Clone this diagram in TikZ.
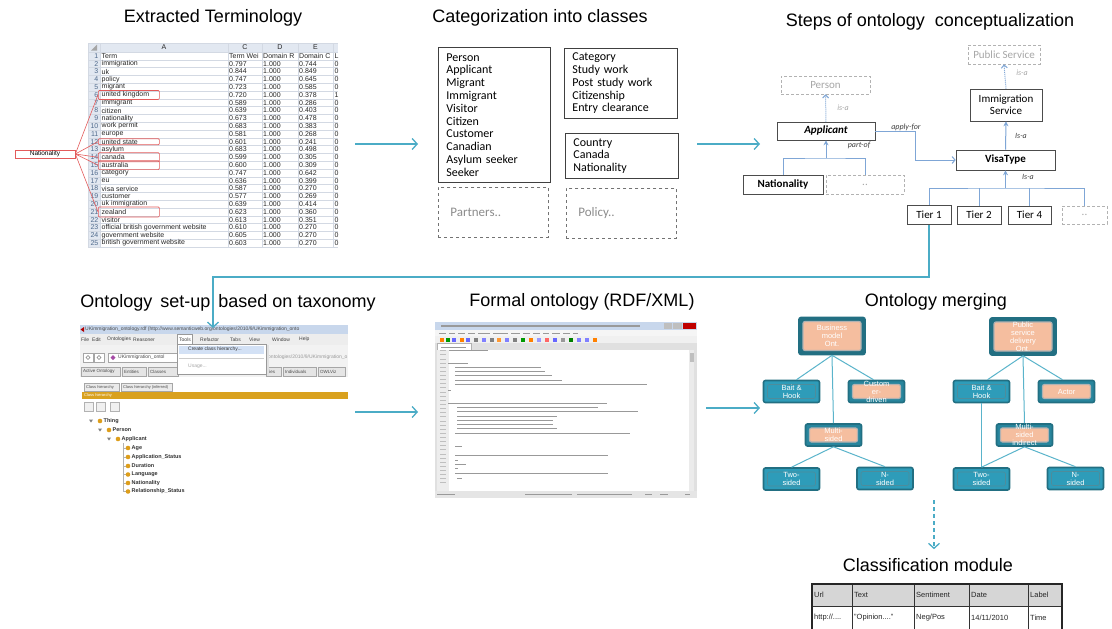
\documentclass[tikz,border=0pt]{standalone}
\usepackage{fontspec}
\setmainfont{Liberation Sans}
\newfontfamily\calibri{Carlito}
\usepackage{tikz}
\usetikzlibrary{arrows.meta, positioning, calc}

\definecolor{flowteal}{HTML}{4BACC6}
\definecolor{linkblue}{HTML}{7FA6D6}
\definecolor{gridgray}{HTML}{D3D9E3}
\definecolor{hdrfill}{HTML}{E2E8F1}
\definecolor{rownum}{HTML}{4F6A8C}
\definecolor{redmark}{HTML}{E35A5A}
\definecolor{mdark}{HTML}{226F82}
\definecolor{mteal}{HTML}{2E9CB9}
\definecolor{mlink}{HTML}{5AB4CB}
\definecolor{peach}{HTML}{F5BE9F}
\definecolor{protorange}{HTML}{D9A11E}
\definecolor{winblue}{HTML}{C8D7EC}
\definecolor{menuhi}{HTML}{D3E1F5}

\begin{document}
\begin{tikzpicture}[x=1pt, y=-1pt,
    title/.style={font=\fontsize{18}{20}\selectfont, inner sep=0pt},
    flow/.style={draw=flowteal, line width=1.3pt,
      -{Straight Barb[length=5pt, width=11pt]}},
    cell/.style={font=\fontsize{7}{8}\selectfont, text=black!85, inner sep=0pt,
      anchor=west},
    redbox/.style={draw=redmark, line width=0.7pt, rounded corners=1pt,
      minimum width=61pt, minimum height=9pt, inner sep=0pt, anchor=west},
    catbox/.style={draw=black!75, line width=0.8pt, anchor=north west,
      align=left, inner xsep=8pt, font=\calibri\fontsize{12}{12.8}\selectfont},
    catghost/.style={draw=black!55, dashed, line width=0.7pt, anchor=north west,
      align=left, inner xsep=12pt, text width=86pt, minimum height=50pt,
      text=black!45, font=\calibri\fontsize{13}{14}\selectfont},
    cbox/.style={draw=black!70, line width=0.6pt, inner sep=1pt,
      font=\calibri\fontsize{11}{12}\selectfont},
    cghost/.style={cbox, draw=black!30, densely dashed, text=black!35},
    link/.style={draw=linkblue, line width=1pt},
    rel/.style={font=\calibri\itshape\fontsize{8}{9}\selectfont,
      text=black!75, inner sep=0pt},
    mnode/.style={draw=mdark, line width=1.6pt, rounded corners=2pt,
      minimum width=56pt, minimum height=22pt, inner sep=0pt, align=center,
      text=white, font=\fontsize{7.5}{8}\selectfont},
    mleaf/.style={mnode, fill=mteal, path picture={\draw[mdark!80,
      line width=0.6pt] ([shift={(4pt,-4pt)}]path picture bounding box.north
      west) rectangle ([shift={(-4pt,4pt)}]path picture bounding box.south
      east);}},
    mpeach/.style={mnode, fill=mteal!85!black, path picture={\filldraw[
      fill=peach, draw=black!30, line width=1.2pt] ([shift={(4pt,-4pt)}]path
      picture bounding box.north west) rectangle ([shift={(-4pt,4pt)}]path
      picture bounding box.south east);}},
    mroot/.style={mpeach, fill=mdark, minimum width=66pt, minimum height=37pt},
    mline/.style={draw=mlink, line width=1pt},
    tiny/.style={font=\fontsize{5}{6}\selectfont, inner sep=0pt, anchor=west},
    codeline/.style={draw=black!40, line width=1pt},
    tcell/.style={cell, font=\fontsize{7.5}{8}\selectfont},
  ]

  \fill[white] (0,0) rectangle (1112,629);
  \useasboundingbox (0,0) rectangle (1112,629);

  % Titles
  \node[title] (t1) at (213,18) {Extracted Terminology};
  \node[title] (t2) at (540,18) {Categorization into classes};
  \node[title] (t3) at (930,22) {Steps of ontology\hspace{5pt} conceptualization};
  \node[title] (t4) at (228,303) {Ontology\hspace{3pt} set-up\hspace{3pt} based on taxonomy};
  \node[title] (t5) at (582,302) {Formal ontology (RDF/XML)};
  \node[title] (t6) at (936,302) {Ontology merging};
  \node[title] (t7) at (928,565) {Classification module};

  % Spreadsheet
  \fill[hdrfill] (88,43) rectangle (338,52);
  \fill[hdrfill] (88,52) rectangle (100,247);
  \fill[black!35] (97,44.5) -- (97,50.5) -- (91,50.5) -- cycle;
  \foreach \k in {0,...,25}
    \draw[gridgray, line width=0.5pt] (88,{52+7.8*\k}) -- (338,{52+7.8*\k});
  \draw[gridgray, line width=0.5pt] (88,43) -- (338,43);
  \foreach \x in {88,100,228,262,298,333}
    \draw[gridgray, line width=0.5pt] (\x,43) -- (\x,247);
  \node[cell, anchor=center] (colA) at (164,47.5) {A};
  \node[cell, anchor=center] (colC) at (245,47.5) {C};
  \node[cell, anchor=center] (colD) at (280,47.5) {D};
  \node[cell, anchor=center] (colE) at (315.5,47.5) {E};
  \foreach \n/\term/\tw/\dr/\dc/\cl in {
      1/Term/Term Wei/Domain R/Domain C/L,
      2/immigration/0.797/1.000/0.744/0, 3/uk/0.844/1.000/0.849/0,
      4/policy/0.747/1.000/0.645/0, 5/migrant/0.723/1.000/0.585/0,
      6/united kingdom/0.720/1.000/0.378/1, 7/immigrant/0.589/1.000/0.286/0,
      8/citizen/0.639/1.000/0.403/0, 9/nationality/0.673/1.000/0.478/0,
      10/work permit/0.683/1.000/0.383/0, 11/europe/0.581/1.000/0.268/0,
      12/united state/0.601/1.000/0.241/0, 13/asylum/0.683/1.000/0.498/0,
      14/canada/0.599/1.000/0.305/0, 15/australia/0.600/1.000/0.309/0,
      16/category/0.747/1.000/0.642/0, 17/eu/0.636/1.000/0.399/0,
      18/visa service/0.587/1.000/0.270/0, 19/customer/0.577/1.000/0.269/0,
      20/uk immigration/0.639/1.000/0.414/0, 21/zealand/0.623/1.000/0.360/0,
      22/visitor/0.613/1.000/0.351/0,
      23/official british government website/0.610/1.000/0.270/0,
      24/government website/0.605/1.000/0.270/0,
      25/british government website/0.603/1.000/0.270/0}{
    \node[cell, anchor=east, text=rownum] (num\n) at (98.5,{48.1+7.8*\n}) {\n};
    \node[cell] (term\n) at (101.5,{48.1+7.8*\n}) {\term};
    \node[cell] (tw\n) at (229,{48.1+7.8*\n}) {\tw};
    \node[cell] (dr\n) at (263,{48.1+7.8*\n}) {\dr};
    \node[cell] (dc\n) at (299,{48.1+7.8*\n}) {\dc};
    \node[cell] (cl\n) at (334.5,{48.1+7.8*\n}) {\cl};
  }

  % Nationality marks
  \node[draw=redmark, line width=0.7pt, minimum width=60pt, minimum height=8pt,
    inner sep=0pt, font=\fontsize{6.5}{7}\selectfont] (natl) at (45,154)
    {Nationality};
  \node[redbox] (ukmark) at ([xshift=-3.5pt]term6.west) {};
  \node[redbox, minimum height=6pt] (usmark) at ([xshift=-3.5pt]term12.west) {};
  \node[redbox] (camark) at ([xshift=-3.5pt]term14.west) {};
  \node[redbox] (aumark) at ([xshift=-3.5pt]term15.west) {};
  \node[redbox, minimum height=10pt] (nzmark) at ([xshift=-3.5pt]term21.west) {};
  \foreach \m in {ukmark,usmark,camark,aumark,nzmark}
    \draw[redmark, line width=0.6pt] (natl.east) -- (\m.west);

  % Categorization into classes
  \node[catbox, text width=96pt, minimum height=135pt] (people) at (438,47)
    {Person\\Applicant\\Migrant\\Immigrant\\Visitor\\Citizen\\Customer\\
     Canadian\\Asylum seeker\\Seeker};
  \node[catbox, text width=97pt, minimum height=70pt] (category) at (564,48)
    {Category\\Study work\\Post study work\\Citizenship\\Entry clearance};
  \node[catbox, text width=97pt, minimum height=45pt] (country) at (565,133)
    {Country\\Canada\\Nationality};
  \node[catghost] (partners) at (438,187) {Partners..};
  \node[catghost] (policy) at (566,188) {Policy..};

  % Steps of ontology conceptualization
  \node[cghost, minimum width=72pt, minimum height=19pt] (pubserv)
    at (1004,54.5) {Public Service};
  \node[cghost, minimum width=89pt, minimum height=18pt] (person)
    at (825.5,85) {Person};
  \node[cbox, minimum width=98pt, minimum height=18pt,
    font=\calibri\bfseries\itshape\fontsize{11}{12}\selectfont] (applicant)
    at (826,131) {Applicant};
  \node[cbox, minimum width=72pt, minimum height=32pt, align=center]
    (immig) at (1006,105) {Immigration\\Service};
  \node[cbox, minimum width=99pt, minimum height=20pt,
    font=\calibri\bfseries\fontsize{11}{12}\selectfont] (visatype)
    at (1005.5,160) {VisaType};
  \node[cbox, minimum width=80pt, minimum height=19pt,
    font=\calibri\bfseries\fontsize{11}{12}\selectfont] (nationality)
    at (783,184.5) {Nationality};
  \node[cghost, minimum width=78pt, minimum height=19pt] (moreparts)
    at (865,184.5) {..};
  \node[cbox, minimum width=44pt, minimum height=19pt] (tier1) at (929,215) {Tier 1};
  \node[cbox, minimum width=44pt, minimum height=18pt] (tier2) at (979,215) {Tier 2};
  \node[cbox, minimum width=43pt, minimum height=18pt] (tier4) at (1029.5,215) {Tier 4};
  \node[cghost, minimum width=45pt, minimum height=18pt] (moretiers)
    at (1084.5,215) {..};

  \draw[link, densely dotted, -{Straight Barb[length=3pt, width=6pt]}]
    (applicant) -- (person);
  \node[rel, text=black!35] (isa1) at (843,108) {is-a};
  \coordinate (partjoin) at (826,158);
  \draw[link] (nationality.north) |- (partjoin) -| (moreparts.north);
  \draw[link, -{Stealth[length=5pt, width=5pt]}] (partjoin) -- (applicant.south);
  \node[rel] (partof) at (859,145) {part-of};
  \coordinate (applybend) at (915,160);
  \draw[link, -{Straight Barb[length=3pt, width=7pt]}]
    (applicant.east) -| (applybend) -- (visatype.west);
  \node[rel] (applyfor) at (906,127) {apply-for};
  \draw[link, -{Stealth[length=5pt, width=5pt]}] (visatype.north) -- (immig.south);
  \node[rel] (isa2) at (1021,136) {Is-a};
  \draw[link, densely dotted, -{Straight Barb[length=3pt, width=6pt]}]
    (immig.north) -- (pubserv.south);
  \node[rel, text=black!35] (isa3) at (1022,73) {is-a};
  \coordinate (tierjoin) at (1005.5,188);
  \draw[link] (tier1.north) |- (tierjoin) -| (moretiers.north);
  \draw[link] (tier2.north) -- (tier2 |- tierjoin);
  \draw[link] (tier4.north) -- (tier4 |- tierjoin);
  \draw[link, -{Stealth[length=5pt, width=5pt]}] (tierjoin) -- (visatype.south);
  \node[rel] (isa4) at (1028,177) {Is-a};

  % Protege screenshot
  \fill[black!5] (80,325) rectangle (348,500);
  \fill[winblue] (80,325) rectangle (348,334);
  \fill[red!70!black] (80.5,329.5) -- (84,327) -- (84,332) -- cycle;
  \node[tiny, text=black!70] (ptitle) at (85,329.5)
    {UKimmigration\_ontology.rdf (http://www.semanticweb.org/ontologies/2010/9/UKimmigration\_onto};
  \fill[black!7] (80,334) rectangle (348,345);
  \draw[black!40, fill=white] (177,334.5) rectangle (192.5,344);
  \foreach \x/\item in {81/File, 92/Edit, 107/Ontologies, 133/Reasoner,
      179/Tools, 200/Refactor, 230/Tabs, 249/View, 272/Window, 299/Help}
    \node[tiny, text=black!75] (menu\item) at (\x,339.5) {\item};
  \draw[black!35, fill=white] (83,353) rectangle (93,362);
  \draw[black!35, fill=white] (94,353) rectangle (104,362);
  \draw[black!50] (86,357.5) -- (88,355.5) -- (90,357.5) -- (88,359.5) -- cycle;
  \draw[black!50] (97,357.5) -- (99,355.5) -- (101,357.5) -- (99,359.5) -- cycle;
  \draw[black!35, fill=white] (108,353) rectangle (178,362);
  \fill[violet!70] (113,355) -- (115.5,357.5) -- (113,360) -- (110.5,357.5) -- cycle;
  \node[tiny, text=black!70] (ontsel) at (118,357.5) {UKimmigration\_ontol};
  \node[tiny, text=black!40] (ontiri) at (268,357.5) {ontologies/2010/9/UKimmigration\_o};
  \foreach \xa/\xb/\tab in {81/120/Active Ontology, 122/146/Entities,
      148/178/Classes, 266/281/ties, 283/316/Individuals, 318/345/OWLViz}{
    \draw[black!35, fill=black!10] (\xa,367) rectangle (\xb,376);
    \node[tiny, font=\fontsize{4.5}{5}\selectfont, text=black!70] at (\xa+2,371.5) {\tab};
  }
  \fill[white] (80,377) rectangle (348,500);
  \draw[black!35, fill=black!8] (84,383) rectangle (119,391);
  \draw[black!35, fill=black!8] (121,383) rectangle (172,391);
  \node[tiny, font=\fontsize{4}{5}\selectfont, text=black!70] (subtab1) at (86,387) {Class hierarchy};
  \node[tiny, font=\fontsize{4}{5}\selectfont, text=black!70] (subtab2) at (123,387) {Class hierarchy (inferred)};
  \fill[protorange] (82,392) rectangle (348,399);
  \node[tiny, font=\fontsize{4}{5}\selectfont, text=white] (hbar) at (84,395.5) {Class hierarchy};
  \foreach \x in {84,96,110}
    \draw[black!30, fill=black!6] (\x,402) rectangle (\x+9,411);
  \fill[black!50] (89,419.5) -- (93,419.5) -- (91,422.5) -- cycle;
  \fill[black!50] (98,428.5) -- (102,428.5) -- (100,431.5) -- cycle;
  \fill[black!50] (107,437.5) -- (111,437.5) -- (109,440.5) -- cycle;
  \draw[black!30] (123,443) -- (123,492);
  \foreach \y in {448,457,466,474.5,483,491.5}
    \draw[black!30] (123,\y) -- (125.5,\y);
  \foreach \x/\y/\cls in {100/421/Thing, 109/430/Person, 118/439/Applicant,
      128/448/Age, 128/457/Application\_Status, 128/466/Duration,
      128/474.5/Language, 128/483/Nationality, 128/491.5/Relationship\_Status}{
    \fill[protorange!90!orange] (\x,\y) circle (2.3pt);
    \node[tiny, font=\bfseries\fontsize{5.5}{6}\selectfont, text=black!80]
      at (\x+3.5,\y) {\cls};
  }
  \fill[black!12] (267,345) rectangle (269,376);
  \draw[black!40, fill=white] (177,344) rectangle (266,374);
  \fill[menuhi] (179,345.5) rectangle (264,353.5);
  \node[tiny, text=black!80] (mkclass) at (188,349.5) {Create class hierarchy...};
  \draw[black!20] (179,358) -- (264,358);
  \node[tiny, text=black!35] (usage) at (188,366) {Usage...};

  % Formal ontology screenshot
  \fill[black!12] (435,322) rectangle (697,498);
  \fill[winblue] (435,322) rectangle (697,330);
  \draw[black!40, line width=1.2pt] (441,326) -- (640,326);
  \fill[black!25] (664,323) rectangle (672,329);
  \fill[black!25] (673,323) rectangle (682,329);
  \fill[red!75!black] (683,323) rectangle (696,329);
  \fill[black!4] (435,330) rectangle (697,336);
  \foreach \xa/\xb in {439/446, 449/455, 458/465, 468/475, 478/490, 493/508,
      511/520, 523/530, 533/540, 543/549, 552/560, 563/570, 573/578}
    \draw[black!40, line width=0.9pt] (\xa,333) -- (\xb,333);
  \fill[black!6] (435,336) rectangle (697,343);
  \foreach \x/\c in {440/orange, 446/green!60!black, 452/blue!60, 460/orange,
      466/blue!60, 474/black!50, 482/blue!50, 490/black!50, 497/orange!80,
      505/blue!50, 513/black!50, 521/green!60!black, 529/orange, 537/blue!40,
      545/red!60, 553/blue!60, 561/black!40, 569/green!50!black, 577/blue!50,
      585/blue!50, 593/orange}
    \fill[\c] (\x,337.5) rectangle (\x+4,341.5);
  \draw[black!30, fill=white] (437,343.5) rectangle (471,350);
  \draw[black!40, line width=0.8pt] (441,347) -- (466,347);
  \fill[white] (437,350) rectangle (694,491);
  \fill[black!7] (437,350) rectangle (449,491);
  \fill[black!8] (689,350) rectangle (694,491);
  \fill[black!25] (689.5,353) rectangle (693.5,362);
  \foreach \k in {0,...,32}
    \draw[black!25, line width=0.8pt] (440,{350.7+4.13*\k}) -- (446,{350.7+4.13*\k});
  \foreach \ya/\xa/\xb in {350.7/449/488, 363.3/448/468, 367.3/455/541,
      371.3/455/545, 375.7/455/552, 380/455/562, 384/455/647, 390/448/451,
      403.3/448/607, 407.7/457/598, 411.7/457/638, 416/457/557, 420/457/553,
      424.3/457/553, 428.3/457/557, 433.3/455/630, 446.7/455/462,
      455/455/608, 460/455/458, 464/455/466, 468.3/455/458, 473.3/455/608,
      478.3/457/462}
    \draw[codeline] (\xa,\ya) -- (\xb,\ya);
  \fill[black!10] (435,491) rectangle (697,498);
  \foreach \xa/\xb in {437/455, 525/572, 577/632, 645/652, 660/668, 685/690}
    \draw[black!40, line width=0.9pt] (\xa,494.5) -- (\xb,494.5);

  % Ontology merging
  \node[mroot] (bizont) at (832,336) {Business\\model\\Ont.};
  \node[mleaf] (bait1) at (791.5,391.5) {Bait \&\\Hook};
  \node[mpeach] (custdriven) at (876.5,391.5) {Custom\\er-\\driven};
  \node[mpeach] (multi) at (833.5,435) {Multi-\\sided};
  \node[mleaf] (two1) at (791.5,479) {Two-\\sided};
  \node[mleaf] (nsided1) at (885,478.5) {N-\\sided};
  \node[mroot] (psdont) at (1023,336.5) {Public\\service\\delivery\\Ont.};
  \node[mleaf] (bait2) at (981.5,391.5) {Bait \&\\Hook};
  \node[mpeach] (actor) at (1066.5,391.5) {Actor};
  \node[mpeach] (multiind) at (1024.5,435) {Multi-\\sided\\indirect};
  \node[mleaf] (two2) at (981.5,479) {Two-\\sided};
  \node[mleaf] (nsided2) at (1075.5,478.5) {N-\\sided};

  \draw[mline] (bizont.south) -- ([xshift=5pt]bait1.north);
  \draw[mline] (bizont.south) -- ([xshift=-3pt]custdriven.north);
  \draw[mline] (bizont.south) -- (multi.north);
  \draw[mline] (multi.south) -- (two1.north);
  \draw[mline] (multi.south) -- (nsided1.north);
  \draw[mline] (psdont.south) -- ([xshift=6pt]bait2.north);
  \draw[mline] (psdont.south) -- ([xshift=-4pt]actor.north);
  \draw[mline] (psdont.south) -- (multiind.north);
  \draw[mline] (bait2.south) -- (two2.north);
  \draw[mline] (multiind.south) -- (two2.north);
  \draw[mline] (multiind.south) -- (nsided2.north);

  % Classification table
  \fill[black!16] (812,584) rectangle (1062,606);
  \draw[black!80, line width=0.6pt] (812,606) -- (1062,606);
  \foreach \x in {852,914,969,1028}
    \draw[black!80, line width=0.7pt] (\x,584) -- (\x,629);
  \draw[black!85, line width=1.6pt] (812,629) |- (1062,584) -- (1062,629);
  \node[tcell] (hurl) at (814,595) {Url};
  \node[tcell] (htext) at (854,595) {Text};
  \node[tcell] (hsent) at (916,595) {Sentiment};
  \node[tcell] (hdate) at (971,595) {Date};
  \node[tcell] (hlabel) at (1030,595) {Label};
  \node[tcell] (vurl) at (814,617.5) {http://....};
  \node[tcell] (vtext) at (854,617.5) {"Opinion...."};
  \node[tcell] (vsent) at (916,617.5) {Neg/Pos};
  \node[tcell] (vdate) at (971,617.5) {14/11/2010};
  \node[tcell] (vlabel) at (1030,617.5) {Time};

  % Flow arrows
  \coordinate (sheetout) at (355,144);
  \coordinate (catin) at (418,144);
  \coordinate (catout) at (697,144);
  \coordinate (stepsin) at (760,144);
  \coordinate (turnR) at (929,277);
  \coordinate (turnL) at (213,277);
  \coordinate (setupin) at (213,328);
  \coordinate (setupout) at (355,412);
  \coordinate (formalin) at (418,412);
  \coordinate (formalout) at (706,408);
  \coordinate (mergein) at (760,408);
  \coordinate (mergeout) at (934,500);
  \draw[flow] (sheetout) -- (catin);
  \draw[flow] (catout) -- (stepsin);
  \draw[flow] (tier1.south) -- (turnR) -- (turnL) -- (setupin);
  \draw[flow] (setupout) -- (formalin);
  \draw[flow] (formalout) -- (mergein);
  \draw[flow, dash pattern=on 4pt off 3pt] (mergeout) -- ([yshift=9pt]t7.north -| mergeout);

\end{tikzpicture}
\end{document}
